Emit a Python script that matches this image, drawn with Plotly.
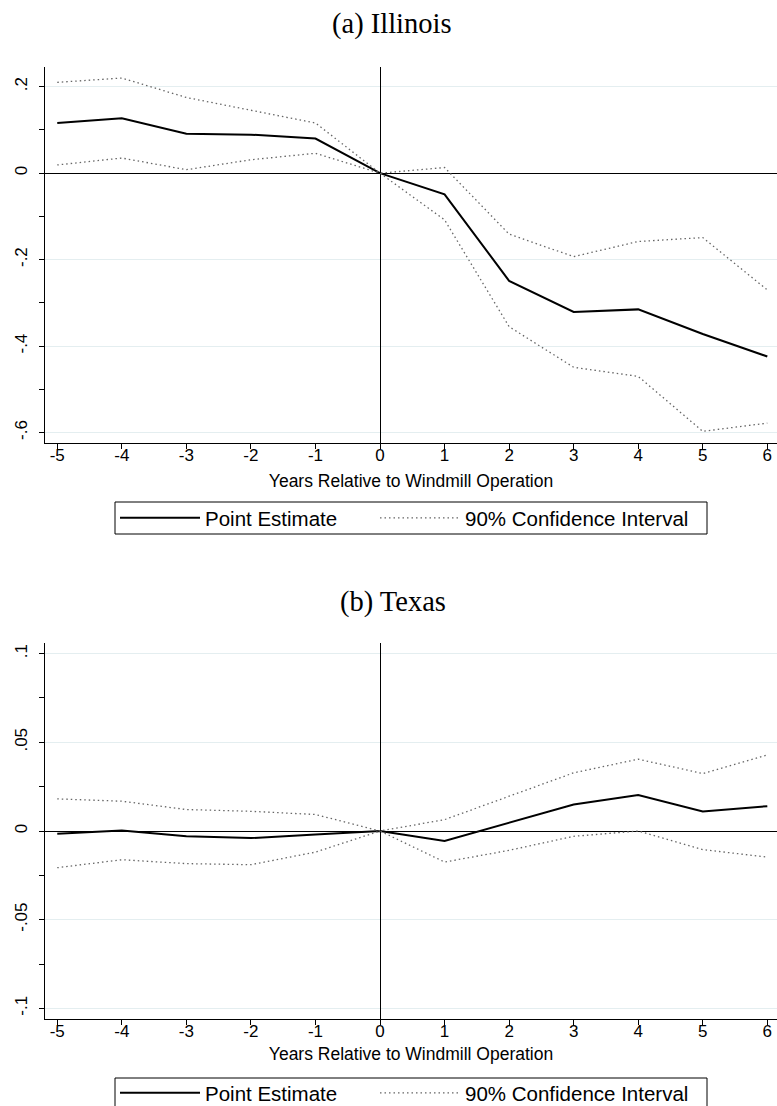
import plotly.graph_objects as go

years = [-5, -4, -3, -2, -1, 0, 1, 2, 3, 4, 5, 6]

il_est = [0.116, 0.127, 0.091, 0.089, 0.080, 0.0, -0.049, -0.249, -0.321, -0.315, -0.372, -0.424]
il_hi = [0.210, 0.220, 0.175, 0.146, 0.116, 0.0, 0.013, -0.141, -0.193, -0.158, -0.149, -0.270]
il_lo = [0.019, 0.035, 0.008, 0.031, 0.046, 0.0, -0.108, -0.355, -0.449, -0.470, -0.597, -0.578]

tx_est = [-0.0015, 0.0003, -0.003, -0.004, -0.002, 0.0, -0.0056, 0.0046, 0.0149, 0.0203, 0.011, 0.014]
tx_hi = [0.0181, 0.0168, 0.0121, 0.0111, 0.0093, 0.0, 0.0064, 0.0196, 0.0328, 0.0405, 0.0324, 0.0429]
tx_lo = [-0.0207, -0.0162, -0.0184, -0.019, -0.0119, 0.0, -0.0175, -0.0109, -0.003, 0.0, -0.0105, -0.0147]

il_ticks = [0.2, 0.0, -0.2, -0.4, -0.6]
il_ticktext = [".2", "0", "-.2", "-.4", "-.6"]
tx_ticks = [0.1, 0.05, 0.0, -0.05, -0.1]
tx_ticktext = [".1", ".05", "0", "-.05", "-.1"]

x_title = "Years Relative to Windmill Operation"
name_est = "Point Estimate"
name_ci = "90% Confidence Interval"
panel_titles = ["(a) Illinois", "(b) Texas"]

W, H = 777, 1106
SANS = "Liberation Sans, Arial, sans-serif"
SERIF = "Liberation Serif, Times New Roman, serif"
GRID = "#e4eef0"
CI_COLOR = "#666666"
CI_DASH = "1.5px,3px"


def px_x(p):
    return p / W


def px_y(p):
    return 1 - p / H


fig = go.Figure()


def add_panel(est, hi, lo, xa, ya, leg_est, leg_ci):
    fig.add_trace(go.Scatter(x=years, y=est, mode="lines", name=name_est,
                             line=dict(color="black", width=2),
                             xaxis=xa, yaxis=ya, legend=leg_est))
    fig.add_trace(go.Scatter(x=years, y=hi, mode="lines", name=name_ci,
                             line=dict(color=CI_COLOR, width=1.3, dash=CI_DASH),
                             xaxis=xa, yaxis=ya, legend=leg_ci))
    fig.add_trace(go.Scatter(x=years, y=lo, mode="lines", name=name_ci,
                             line=dict(color=CI_COLOR, width=1.3, dash=CI_DASH),
                             xaxis=xa, yaxis=ya, legend=leg_ci, showlegend=False))


add_panel(il_est, il_hi, il_lo, "x", "y", "legend", "legend3")
add_panel(tx_est, tx_hi, tx_lo, "x2", "y2", "legend2", "legend4")

xdom = [px_x(45), 1.0]
common_x = dict(
    domain=xdom, range=[-5.19, 6.15], tickvals=years,
    ticktext=[str(v) for v in years],
    showline=True, linecolor="black", linewidth=1,
    ticks="outside", ticklen=5, tickcolor="black", tickwidth=1,
    ticklabelstandoff=-8,
    showgrid=False, zeroline=True, zerolinecolor="black", zerolinewidth=1,
    tickfont=dict(family=SANS, size=17, color="black"),
    automargin=False,
)
common_y = dict(
    showline=True, linecolor="black", linewidth=1,
    ticks="outside", ticklen=5, tickcolor="black", tickwidth=1,
    showgrid=True, gridcolor=GRID, gridwidth=1,
    zeroline=True, zerolinecolor="black", zerolinewidth=1,
    tickangle=-90, ticklabelstandoff=5,
    tickfont=dict(family=SANS, size=17, color="black"),
    automargin=False,
)


def x_title_dict(standoff):
    return dict(text=x_title, font=dict(family=SANS, size=17.5, color="black"), standoff=standoff)


def legend_at(x_px, y_px):
    return dict(orientation="h", x=px_x(x_px), y=px_y(y_px), xanchor="left", yanchor="middle",
                borderwidth=0, bgcolor="rgba(0,0,0,0)", itemwidth=80, visible=True,
                font=dict(family=SANS, size=20.5, color="black"))


# legend box frames (top panel, bottom panel)
box_x0, box_x1 = 115, 707
boxes = [(502, 534), (1078, 1112)]
shapes = [dict(type="rect", xref="paper", yref="paper",
               x0=px_x(box_x0), x1=px_x(box_x1), y0=px_y(b1), y1=px_y(b0),
               line=dict(color="black", width=1), fillcolor="rgba(0,0,0,0)", layer="below")
          for b0, b1 in boxes]

fig.update_layout(
    showlegend=True,
    xaxis=dict(common_x, anchor="y", title=x_title_dict(10)),
    yaxis=dict(common_y, domain=[px_y(443), px_y(67)], range=[-0.624, 0.2455],
               tickvals=il_ticks, ticktext=il_ticktext,
               minor=dict(dtick=0.1, tick0=0, ticks="outside", ticklen=5,
                          tickcolor="black", showgrid=False),
               anchor="x"),
    xaxis2=dict(common_x, anchor="y2", title=x_title_dict(7)),
    yaxis2=dict(common_y, domain=[px_y(1019), px_y(643)], range=[-0.106, 0.106],
                tickvals=tx_ticks, ticktext=tx_ticktext,
                minor=dict(dtick=0.025, tick0=0, ticks="outside", ticklen=5,
                           tickcolor="black", showgrid=False),
                anchor="x2"),
    width=W, height=H,
    margin=dict(l=0, r=0, t=0, b=0, autoexpand=False),
    paper_bgcolor="white", plot_bgcolor="white",
    legend=legend_at(115, 518),
    legend3=legend_at(375, 518),
    legend2=legend_at(115, 1093),
    legend4=legend_at(375, 1093),
    shapes=shapes,
    annotations=[
        dict(text=panel_titles[0], x=px_x(392), y=px_y(24), xref="paper", yref="paper",
             showarrow=False, font=dict(family=SERIF, size=28.5, color="black"),
             xanchor="center", yanchor="middle"),
        dict(text=panel_titles[1], x=px_x(393), y=px_y(602), xref="paper", yref="paper",
             showarrow=False, font=dict(family=SERIF, size=28.5, color="black"),
             xanchor="center", yanchor="middle"),
    ],
)

fig.write_html(
    "out.html",
    config={"displayModeBar": False},
    post_script="document.body.style.margin='0px';document.body.style.overflow='hidden';",
)
